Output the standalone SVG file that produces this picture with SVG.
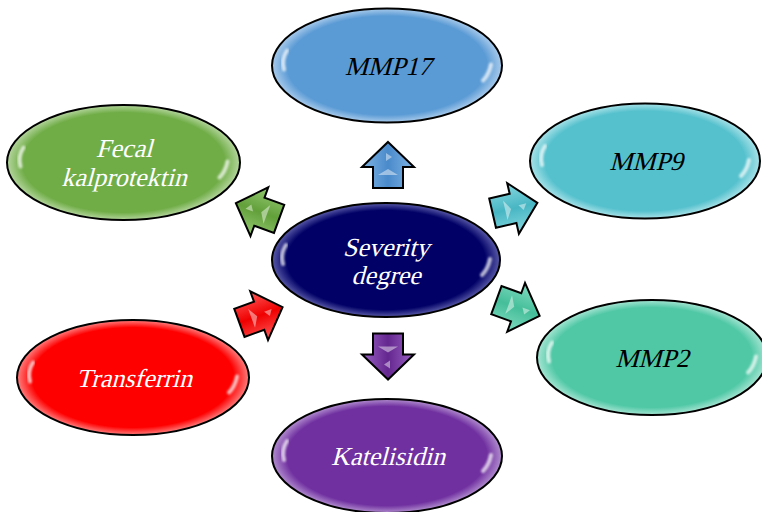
<svg xmlns="http://www.w3.org/2000/svg" xmlns:xlink="http://www.w3.org/1999/xlink" width="762" height="512" viewBox="0 0 762 512">
<style>
.node ellipse{stroke:#000;stroke-width:2}
.lbl{font-family:"Liberation Serif","Times New Roman",serif;font-style:normal;font-size:26px;text-anchor:middle}
.w{fill:#fff}
.k{fill:#000}
.arr{stroke:#000;stroke-width:2;stroke-linejoin:miter}
.hl{fill:none;stroke:#fff;stroke-width:4;stroke-linecap:round;opacity:0.7;filter:url(#blur)}
.ahl{fill:#fff;opacity:0.45}
</style>
<defs>
<filter id="blur" x="-50%" y="-50%" width="200%" height="200%"><feGaussianBlur stdDeviation="1.3"/></filter>
<radialGradient id="gBlue"><stop offset="0" stop-color="#5B9BD5"/><stop offset="0.87" stop-color="#5B9BD5"/><stop offset="1" stop-color="#A9CBEB"/></radialGradient>
<radialGradient id="gGreen"><stop offset="0" stop-color="#70AD47"/><stop offset="0.87" stop-color="#70AD47"/><stop offset="1" stop-color="#B5D69E"/></radialGradient>
<radialGradient id="gCyan"><stop offset="0" stop-color="#55C1CD"/><stop offset="0.87" stop-color="#55C1CD"/><stop offset="1" stop-color="#A9E2E8"/></radialGradient>
<radialGradient id="gNavy"><stop offset="0" stop-color="#000066"/><stop offset="0.87" stop-color="#000066"/><stop offset="1" stop-color="#5A5AA8"/></radialGradient>
<radialGradient id="gRed"><stop offset="0" stop-color="#FF0000"/><stop offset="0.87" stop-color="#FF0000"/><stop offset="1" stop-color="#FF8080"/></radialGradient>
<radialGradient id="gTeal"><stop offset="0" stop-color="#50C8A6"/><stop offset="0.87" stop-color="#50C8A6"/><stop offset="1" stop-color="#A6E5D2"/></radialGradient>
<radialGradient id="gPurple"><stop offset="0" stop-color="#7030A0"/><stop offset="0.87" stop-color="#7030A0"/><stop offset="1" stop-color="#B28ECF"/></radialGradient>
<linearGradient id="aBlue" x1="0" y1="0" x2="1" y2="0"><stop offset="0" stop-color="#7FB4E4"/><stop offset="0.5" stop-color="#4A8ACB"/><stop offset="1" stop-color="#7FB4E4"/></linearGradient>
<linearGradient id="aGreen" x1="0" y1="0" x2="1" y2="0"><stop offset="0" stop-color="#95C972"/><stop offset="0.5" stop-color="#62A03A"/><stop offset="1" stop-color="#95C972"/></linearGradient>
<linearGradient id="aCyan" x1="0" y1="0" x2="1" y2="0"><stop offset="0" stop-color="#86D8E0"/><stop offset="0.5" stop-color="#48B6C3"/><stop offset="1" stop-color="#86D8E0"/></linearGradient>
<linearGradient id="aTeal" x1="0" y1="0" x2="1" y2="0"><stop offset="0" stop-color="#82DCC0"/><stop offset="0.5" stop-color="#45BE99"/><stop offset="1" stop-color="#82DCC0"/></linearGradient>
<linearGradient id="aRed" x1="0" y1="0" x2="1" y2="0"><stop offset="0" stop-color="#FF5A5A"/><stop offset="0.5" stop-color="#F00000"/><stop offset="1" stop-color="#FF5A5A"/></linearGradient>
<linearGradient id="aPurple" x1="0" y1="0" x2="1" y2="0"><stop offset="0" stop-color="#9A62C4"/><stop offset="0.5" stop-color="#64268F"/><stop offset="1" stop-color="#9A62C4"/></linearGradient>
<path id="arrowShape" d="M0,-23 L26,2 L15,2 L15,23 L-15,23 L-15,2 L-26,2 Z"/>
<g id="arrowHl"><path class="ahl" d="M-2,-12 L4,-8 L-2,-4 Z"/><path class="ahl" d="M-10,10 L0,4 L10,10 Z"/></g>
<g id="hl"><path class="hl" d="M-100,-15 Q-106,-6 -103,4"/><path class="hl" d="M104,-1 Q102,9 96,15"/></g>
</defs>

<g id="connectors">
<g transform="translate(388,165)"><use xlink:href="#arrowShape" class="arr" fill="url(#aBlue)"/><use xlink:href="#arrowHl"/></g>
<g transform="translate(388,356.5) rotate(180)"><use xlink:href="#arrowShape" class="arr" fill="url(#aPurple)"/><use xlink:href="#arrowHl"/></g>
<g transform="translate(257.5,211) rotate(-70)"><use xlink:href="#arrowShape" class="arr" fill="url(#aGreen)"/><use xlink:href="#arrowHl"/></g>
<g transform="translate(515,208) rotate(77)"><use xlink:href="#arrowShape" class="arr" fill="url(#aCyan)"/><use xlink:href="#arrowHl"/></g>
<g transform="translate(518,308) rotate(110)"><use xlink:href="#arrowShape" class="arr" fill="url(#aTeal)"/><use xlink:href="#arrowHl"/></g>
<g transform="translate(261,315) rotate(70)"><use xlink:href="#arrowShape" class="arr" fill="url(#aRed)"/><use xlink:href="#arrowHl"/></g>
</g>

<g id="node-mmp17" class="node">
<ellipse cx="387" cy="65.5" rx="115" ry="57" fill="url(#gBlue)"/>
<use xlink:href="#hl" x="387" y="65.5"/>
<text class="lbl k" transform="translate(388,75) skewX(-15)">MMP17</text>
</g>

<g id="node-fecal" class="node">
<ellipse cx="123.5" cy="162.5" rx="116.5" ry="57.5" fill="url(#gGreen)"/>
<use xlink:href="#hl" x="123.5" y="162.5"/>
<text class="lbl w" transform="translate(124,157) skewX(-15)">Fecal</text>
<text class="lbl w" transform="translate(124,186) skewX(-15)">kalprotektin</text>
</g>

<g id="node-mmp9" class="node">
<ellipse cx="645" cy="161" rx="115" ry="57.5" fill="url(#gCyan)"/>
<use xlink:href="#hl" x="645" y="161"/>
<text class="lbl k" transform="translate(646,170) skewX(-15)">MMP9</text>
</g>

<g id="node-severity" class="node">
<ellipse cx="386" cy="260" rx="114" ry="57" fill="url(#gNavy)"/>
<use xlink:href="#hl" x="386" y="260"/>
<text class="lbl w" transform="translate(386,256) skewX(-15)">Severity</text>
<text class="lbl w" transform="translate(386,284) skewX(-15)">degree</text>
</g>

<g id="node-transferrin" class="node">
<ellipse cx="133" cy="377.5" rx="116" ry="57.5" fill="url(#gRed)"/>
<use xlink:href="#hl" x="133" y="377.5"/>
<text class="lbl w" transform="translate(134,387) skewX(-15)">Transferrin</text>
</g>

<g id="node-mmp2" class="node">
<ellipse cx="652" cy="357.5" rx="115" ry="57.5" fill="url(#gTeal)"/>
<use xlink:href="#hl" x="652" y="357.5"/>
<text class="lbl k" transform="translate(652,367) skewX(-15)">MMP2</text>
</g>

<g id="node-katelisidin" class="node">
<ellipse cx="387" cy="456" rx="115" ry="57" fill="url(#gPurple)"/>
<use xlink:href="#hl" x="387" y="456"/>
<text class="lbl w" transform="translate(388,465) skewX(-15)">Katelisidin</text>
</g>
</svg>
